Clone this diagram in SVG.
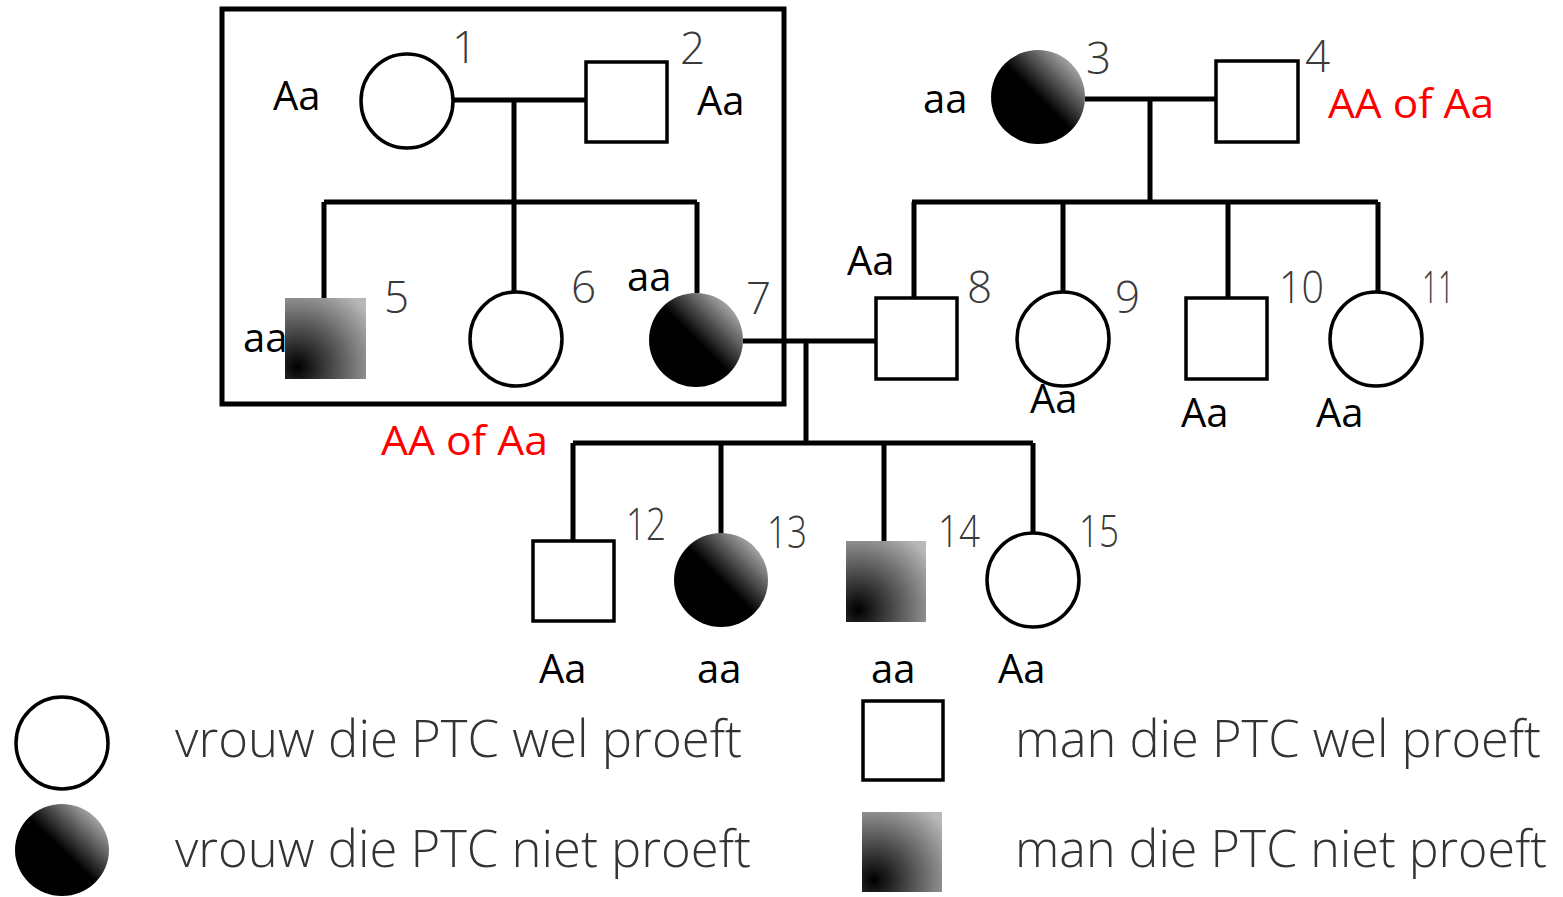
<svg xmlns="http://www.w3.org/2000/svg" width="1563" height="897" viewBox="0 0 1563 897">
<defs>
<linearGradient id="gc" x1="1" y1="0" x2="0" y2="1">
<stop offset="0" stop-color="#e6e6e6"/>
<stop offset="0.5" stop-color="#000"/>
<stop offset="1" stop-color="#000"/>
</linearGradient>
<radialGradient id="gs" cx="0.15" cy="0.85" r="1.1">
<stop offset="0" stop-color="#000"/>
<stop offset="1" stop-color="#b8b8b8"/>
</radialGradient>
</defs>
<style>
.o{fill:#fff;stroke:#000;stroke-width:3.5}
.fc{fill:url(#gc);stroke:none}
.fs{fill:url(#gs);stroke:none}
.ln{fill:none;stroke:#000;stroke-width:5}
.g{font-family:"Open Sans","Liberation Sans",sans-serif;font-size:40px;fill:#000}
.r{fill:#f00}
.n{font-family:"Open Sans","Liberation Sans",sans-serif;font-weight:300;font-size:44px;fill:#3a3a3a}
.lg{font-family:"Open Sans","Liberation Sans",sans-serif;font-weight:300;font-size:52px;fill:#333}
</style>
<rect width="1563" height="897" fill="#fff"/>
<rect x="222" y="9" width="562" height="395" class="ln" stroke-width="4"/>
<g id="connectors">
<path class="ln" d="M453 100H586M514 100V202M324 202H697M324 202V298M514 202V293M697 202V293"/>
<path class="ln" d="M1085 99H1216M1150 99V202M912 202H1378M914 202V298M1063 202V292M1228 202V298M1378 202V293"/>
<path class="ln" d="M743 341H876M806 341V443M573 443H1033M573 443V541M721 443V534M884 443V541M1033 443V534"/>
</g>
<g id="n1"><ellipse class="o" cx="407" cy="101" rx="46" ry="47"/><text class="n" x="452" y="63">1</text><text class="g" x="273" y="110">Aa</text></g>
<g id="n2"><rect class="o" x="586" y="62" width="81" height="80"/><text class="n" x="680" y="64">2</text><text class="g" x="697" y="115">Aa</text></g>
<g id="n3"><ellipse class="fc" cx="1038" cy="97" rx="47" ry="47"/><text class="n" x="1086" y="74">3</text><text class="g" x="923" y="113">aa</text></g>
<g id="n4"><rect class="o" x="1216" y="61" width="82" height="81"/><text class="n" x="1305" y="72">4</text><text class="g r" x="1328" y="118" textLength="166" lengthAdjust="spacingAndGlyphs">AA of Aa</text></g>
<g id="n5"><rect class="fs" x="285" y="298" width="81" height="81"/><text class="n" x="384" y="313">5</text><text class="g" x="243" y="352">aa</text></g>
<g id="n6"><ellipse class="o" cx="516" cy="339" rx="46" ry="47"/><text class="n" x="571" y="303">6</text></g>
<g id="n7"><ellipse class="fc" cx="696" cy="340" rx="47" ry="47"/><text class="n" x="746" y="314">7</text><text class="g" x="627" y="291">aa</text></g>
<g id="n8"><rect class="o" x="876" y="298" width="81" height="81"/><text class="n" x="967" y="303">8</text><text class="g" x="847" y="275">Aa</text></g>
<g id="n9"><ellipse class="o" cx="1063" cy="339" rx="46" ry="47"/><text class="n" x="1115" y="313">9</text><text class="g" x="1030" y="413">Aa</text></g>
<g id="n10"><rect class="o" x="1186" y="298" width="81" height="81"/><text class="n" x="1279" y="303" textLength="45" lengthAdjust="spacingAndGlyphs">10</text><text class="g" x="1181" y="427">Aa</text></g>
<g id="n11"><ellipse class="o" cx="1376" cy="339" rx="46" ry="47"/><text class="n" x="1422" y="303" textLength="32" lengthAdjust="spacingAndGlyphs">11</text><text class="g" x="1316" y="427">Aa</text></g>
<text class="g r" x="381" y="455" textLength="167" lengthAdjust="spacingAndGlyphs">AA of Aa</text>
<g id="n12"><rect class="o" x="533" y="541" width="81" height="80"/><text class="n" x="626" y="540" textLength="40" lengthAdjust="spacingAndGlyphs">12</text><text class="g" x="539" y="683">Aa</text></g>
<g id="n13"><ellipse class="fc" cx="721" cy="580" rx="47" ry="47"/><text class="n" x="767" y="548" textLength="40" lengthAdjust="spacingAndGlyphs">13</text><text class="g" x="697" y="683">aa</text></g>
<g id="n14"><rect class="fs" x="846" y="541" width="80" height="81"/><text class="n" x="938" y="547" textLength="42" lengthAdjust="spacingAndGlyphs">14</text><text class="g" x="871" y="683">aa</text></g>
<g id="n15"><ellipse class="o" cx="1033" cy="580" rx="46" ry="47"/><text class="n" x="1079" y="547" textLength="40" lengthAdjust="spacingAndGlyphs">15</text><text class="g" x="998" y="683">Aa</text></g>
<g id="legend">
<ellipse class="o" cx="62" cy="743" rx="46" ry="46"/>
<ellipse class="fc" cx="62" cy="850" rx="47" ry="46"/>
<rect class="o" x="863" y="701" width="80" height="79"/>
<rect class="fs" x="862" y="812" width="80" height="80"/>
<text class="lg" x="175" y="757" textLength="567" lengthAdjust="spacingAndGlyphs">vrouw die PTC wel proeft</text>
<text class="lg" x="175" y="867" textLength="576" lengthAdjust="spacingAndGlyphs">vrouw die PTC niet proeft</text>
<text class="lg" x="1015" y="757" textLength="526" lengthAdjust="spacingAndGlyphs">man die PTC wel proeft</text>
<text class="lg" x="1015" y="867" textLength="532" lengthAdjust="spacingAndGlyphs">man die PTC niet proeft</text>
</g>
</svg>
